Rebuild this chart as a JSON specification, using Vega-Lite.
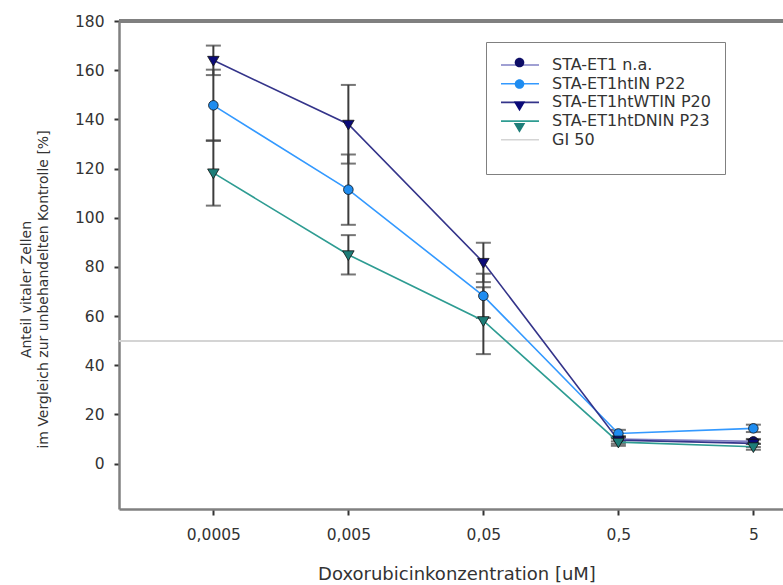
{
  "$schema": "https://vega.github.io/schema/vega-lite/v6.json",
  "width": 664,
  "height": 488,
  "autosize": {"type": "none"},
  "padding": {"left": 119, "top": 21, "right": 0, "bottom": 76},
  "background": "white",
  "config": {
    "view": {"stroke": null},
    "font": "DejaVu Sans"
  },
  "data": {
    "values": [
      {"series": "STA-ET1 n.a.", "conc": 0.5, "v": 10.0, "sd": 1.0},
      {"series": "STA-ET1 n.a.", "conc": 5, "v": 9.0, "sd": 1.0},
      {"series": "STA-ET1htIN P22", "conc": 0.0005, "v": 145.7, "sd": 14.5},
      {"series": "STA-ET1htIN P22", "conc": 0.005, "v": 111.4, "sd": 14.3},
      {"series": "STA-ET1htIN P22", "conc": 0.05, "v": 68.2, "sd": 9.0},
      {"series": "STA-ET1htIN P22", "conc": 0.5, "v": 12.2, "sd": 1.5},
      {"series": "STA-ET1htIN P22", "conc": 5, "v": 14.3, "sd": 1.5},
      {"series": "STA-ET1htWTIN P20", "conc": 0.0005, "v": 164.0, "sd": 6.0},
      {"series": "STA-ET1htWTIN P20", "conc": 0.005, "v": 138.0, "sd": 16.0},
      {"series": "STA-ET1htWTIN P20", "conc": 0.05, "v": 81.8, "sd": 8.0},
      {"series": "STA-ET1htWTIN P20", "conc": 0.5, "v": 9.5, "sd": 1.5},
      {"series": "STA-ET1htWTIN P20", "conc": 5, "v": 8.2, "sd": 1.5},
      {"series": "STA-ET1htDNIN P23", "conc": 0.0005, "v": 118.2, "sd": 13.3},
      {"series": "STA-ET1htDNIN P23", "conc": 0.005, "v": 84.9, "sd": 8.0},
      {"series": "STA-ET1htDNIN P23", "conc": 0.05, "v": 58.1, "sd": 13.6},
      {"series": "STA-ET1htDNIN P23", "conc": 0.5, "v": 8.7, "sd": 1.5},
      {"series": "STA-ET1htDNIN P23", "conc": 5, "v": 6.8, "sd": 1.2}
    ]
  },
  "layer": [
    {
      "mark": {"type": "rule", "color": "#808080", "strokeWidth": 2.5},
      "encoding": {"y": {"datum": 180}}
    },
    {
      "mark": {"type": "rule", "strokeWidth": 1.2},
      "encoding": {
        "y": {"datum": 50},
        "color": {"datum": "GI 50"}
      }
    },
    {
      "encoding": {
        "x": {
          "field": "conc", "type": "quantitative",
          "scale": {"type": "log", "domain": [0.0001, 8.287], "nice": false},
          "axis": {
            "values": [0.0005, 0.005, 0.05, 0.5, 5],
            "labelExpr": "replace(toString(datum.value), '.', ',')",
            "grid": false,
            "domainColor": "#808080", "domainWidth": 2.5,
            "tickColor": "#333333", "tickWidth": 2, "tickSize": 6,
            "labelFont": "DejaVu Sans", "labelFontSize": 15.5, "labelColor": "#333333", "labelPadding": 12,
            "titleFont": "DejaVu Sans", "titleFontSize": 18, "titleFontWeight": "normal", "titleColor": "#333333",
            "titleX": 337.5, "titleY": 56, "titleBaseline": "top", "titleAlign": "center"
          },
          "title": "Doxorubicinkonzentration [uM]"
        },
        "y": {
          "field": "v", "type": "quantitative",
          "scale": {"domain": [-18.5, 180], "nice": false, "zero": false},
          "axis": {
            "values": [0, 20, 40, 60, 80, 100, 120, 140, 160, 180],
            "grid": false,
            "domainColor": "#808080", "domainWidth": 2.5,
            "tickColor": "#333333", "tickWidth": 2, "tickSize": 5,
            "labelFont": "DejaVu Sans", "labelFontSize": 15.5, "labelColor": "#333333", "labelPadding": 10,
            "titleFont": "DejaVu Sans", "titleFontSize": 14, "titleFontWeight": "normal", "titleColor": "#333333",
            "titleLineHeight": 17.5,
            "titleX": -100, "titleY": 268, "titleAngle": -90, "titleBaseline": "top", "titleAlign": "center"
          },
          "title": ["Anteil vitaler Zellen", "im Vergleich zur unbehandelten Kontrolle [%]"]
        }
      },
      "layer": [
        {
          "mark": {"type": "errorbar", "ticks": {"size": 15, "thickness": 2, "color": "#3c3c3c"}, "rule": {"strokeWidth": 2, "color": "#3c3c3c"}},
          "encoding": {
            "yError": {"field": "sd"}
          }
        },
        {
          "mark": {"type": "line", "strokeWidth": 1.6},
          "encoding": {
            "color": {
              "field": "series", "type": "nominal",
              "scale": {
                "domain": ["STA-ET1 n.a.", "STA-ET1htIN P22", "STA-ET1htWTIN P20", "STA-ET1htDNIN P23", "GI 50"],
                "range": ["#8080c4", "#3399ff", "#34348a", "#2e9c92", "#d4d4d4"]
              },
              "legend": {
                "orient": "none", "legendX": 367, "legendY": 21,
                "title": " ", "titleOrient": "bottom", "titleFontSize": 4, "titlePadding": 8,
                "padding": 14,
                "strokeColor": "#808080", "fillColor": "white",
                "symbolType": "M-1,0L3.75,0", "symbolSize": 256, "symbolStrokeWidth": 1.6,
                "labelFont": "DejaVu Sans", "labelFontSize": 16, "labelColor": "#333333",
                "labelOffset": 34, "rowPadding": 1.7
              }
            }
          }
        },
        {
          "mark": {"type": "point", "filled": true, "size": 256, "stroke": "#111111", "strokeWidth": 0.8, "opacity": 1},
          "encoding": {
            "fill": {
              "field": "series", "type": "nominal",
              "scale": {
                "domain": ["STA-ET1 n.a.", "STA-ET1htIN P22", "STA-ET1htWTIN P20", "STA-ET1htDNIN P23"],
                "range": ["#0d0d66", "#1e8cf0", "#0a0a78", "#1d7d78"]
              },
              "legend": {
                "orient": "none", "legendX": 378, "legendY": 19,
                "title": null, "padding": 14,
                "symbolSize": 256, "symbolStrokeColor": "#111111", "symbolStrokeWidth": 0.8,
                "labelExpr": "''", "labelFontSize": 16,
                "labelOffset": 0, "rowPadding": 4.5
              }
            },
            "shape": {
              "field": "series", "type": "nominal",
              "scale": {
                "domain": ["STA-ET1 n.a.", "STA-ET1htIN P22", "STA-ET1htWTIN P20", "STA-ET1htDNIN P23"],
                "range": [
                  "M0.6,0A0.6,0.6,0,1,1,-0.6,0A0.6,0.6,0,1,1,0.6,0Z",
                  "M0.6,0A0.6,0.6,0,1,1,-0.6,0A0.6,0.6,0,1,1,0.6,0Z",
                  "M-0.72,-0.5L0.72,-0.5L0,0.72Z",
                  "M-0.72,-0.5L0.72,-0.5L0,0.72Z"
                ]
              },
              "legend": {
                "orient": "none", "legendX": 378, "legendY": 19,
                "title": null, "padding": 14,
                "symbolSize": 256, "symbolStrokeColor": "#111111", "symbolStrokeWidth": 0.8,
                "labelExpr": "''", "labelFontSize": 16,
                "labelOffset": 0, "rowPadding": 4.5
              }
            }
          }
        }
      ]
    }
  ]
}
